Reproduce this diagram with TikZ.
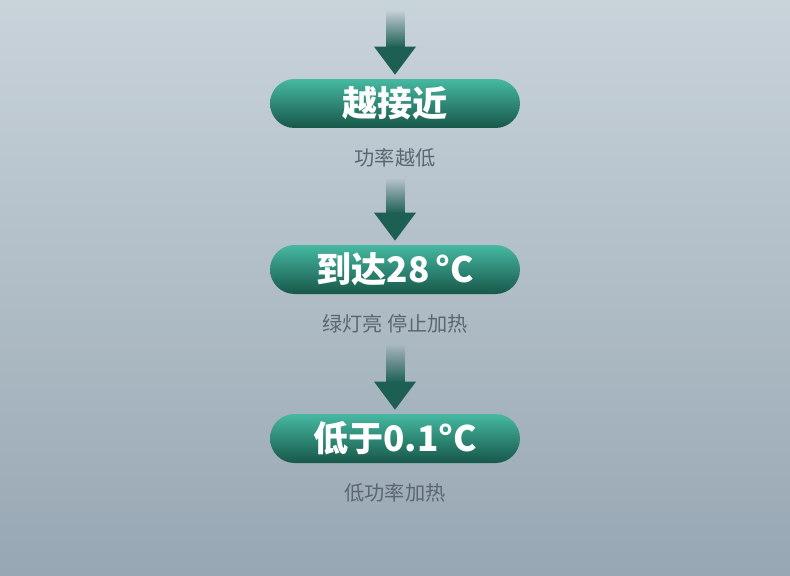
\documentclass[tikz,border=0pt]{standalone}
\usepackage{fontspec}
\newfontfamily\cjk{Noto Sans CJK SC}
\usetikzlibrary{calc,fadings}

\definecolor{bgtop}{HTML}{C9D3DA}
\definecolor{bgbot}{HTML}{97A7B3}
\definecolor{pilltop}{HTML}{46B9A2}
\definecolor{pillbot}{HTML}{175749}
\definecolor{arrowgreen}{HTML}{1D5F53}
\definecolor{captiongray}{HTML}{5B6670}

\tikzset{
  pill/.style={shade, top color=pilltop, bottom color=pillbot,
    rounded corners=0.49cm, minimum width=5cm, minimum height=0.98cm,
    inner sep=0pt, text=white, font=\cjk\bfseries\fontsize{20}{24}\selectfont},
  caption/.style={text=captiongray, inner sep=0pt,
    font=\cjk\fontsize{11.5}{14}\selectfont},
}

% fat arrow: fading shaft, solid head, tip just above the pill
\newcommand{\flowarrow}[2]{%
  \fill[arrowgreen, path fading=north] ($(#1)+(-9.5,20)$) rectangle ($(#2.north)+(9.5,-31)$);
  \fill[arrowgreen] ($(#2.north)+(-21,-32)$) -- ($(#2.north)+(21,-32)$) -- ($(#2.north)+(0,-4)$) -- cycle;
}

\begin{document}
\begin{tikzpicture}[x=0.02cm,y=-0.02cm]
\useasboundingbox (0,0) rectangle (790,575);
\shade[top color=bgtop, bottom color=bgbot] (0,0) rectangle (790,575);

\coordinate (start) at (395,-10);
\node[pill] (closer) at (395,103.5) {越接近};
\node[caption] (lowpower) at (395,158) {功率越低};
\node[pill] (reached) at (395,269.5) {到达28\,°C};
\node[caption] (stopheat) at (395,324) {绿灯亮 停止加热};
\node[pill] (below) at (395,438.5) {低于0.1°C};
\node[caption] (lowheat) at (395,493) {低功率加热};

\flowarrow{start}{closer}
\flowarrow{lowpower}{reached}
\flowarrow{stopheat}{below}
\end{tikzpicture}
\end{document}
